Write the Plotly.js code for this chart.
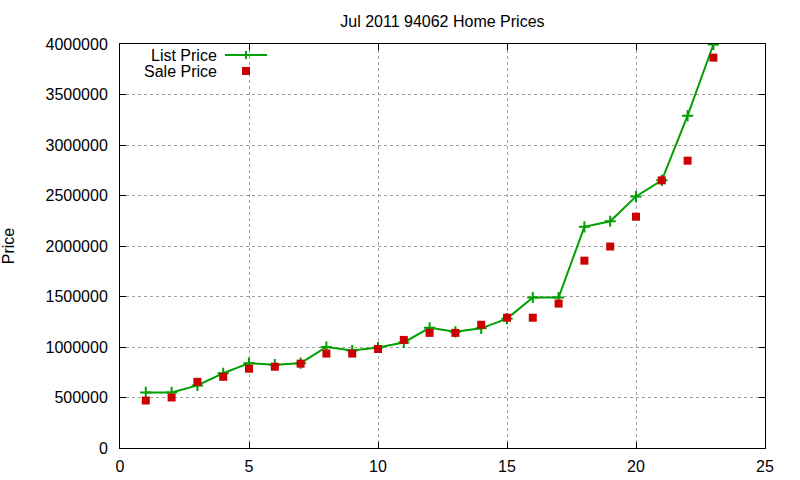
<!DOCTYPE html>
<html>
<head>
<meta charset="utf-8">
<script src="https://cdn.plot.ly/plotly-3.0.1.min.js"></script>
<style>html,body{margin:0;padding:0;background:#fff;}#chart{width:800px;height:480px;}</style>
</head>
<body>
<div id="chart"></div>
<script>
var homeIndex = [1,2,3,4,5,6,7,8,9,10,11,12,13,14,15,16,17,18,19,20,21,22,23];
var listPrice = [550000,550000,620000,740000,840000,825000,840000,1000000,965000,995000,1045000,1190000,1150000,1185000,1280000,1490000,1490000,2190000,2245000,2490000,2650000,3290000,3995000];
var salePrice = [470000,500000,655000,705000,785000,805000,835000,935000,935000,980000,1070000,1140000,1140000,1220000,1290000,1290000,1430000,1855000,1995000,2290000,2650000,2845000,3865000];
var xTicks = [0,5,10,15,20,25];
var yTicks = [0,500000,1000000,1500000,2000000,2500000,3000000,3500000,4000000];
var seriesNames = ['List Price','Sale Price'];

var GREEN = '#00a000', RED = '#cc0000';
var FONT = {family: '"Liberation Sans", Arial, sans-serif', size: 16, color: '#000'};

var traces = [
  {x: homeIndex, y: listPrice, name: seriesNames[0], type: 'scatter', mode: 'lines+markers',
   line: {color: GREEN, width: 2},
   marker: {symbol: 'cross-thin', size: 8, color: GREEN, line: {color: GREEN, width: 2}},
   showlegend: false},
  {x: homeIndex, y: salePrice, name: seriesNames[1], type: 'scatter', mode: 'markers',
   marker: {symbol: 'square', size: 8, color: RED, line: {width: 0}},
   showlegend: false}
];

var L = 120, R = 765, T = 44, B = 448;
function px(x){ return (x - L) / (R - L); }
function py(y){ return (B - y) / (B - T); }

var layout = {
  width: 800, height: 480,
  margin: {l: 120, r: 35, t: 44, b: 32},
  paper_bgcolor: '#fff', plot_bgcolor: '#fff',
  font: FONT,
  title: {text: 'Jul 2011 94062 Home Prices', font: FONT, x: 0.553, xanchor: 'center', y: 0.955, yanchor: 'middle'},
  xaxis: {range: [0, 25], tickvals: xTicks, ticktext: xTicks.map(String),
    ticks: 'inside', ticklen: 6, tickcolor: '#000', tickwidth: 1,
    showline: true, linecolor: '#000', linewidth: 1, mirror: 'ticks',
    showgrid: true, gridcolor: '#a0a0a0', griddash: 'dot', gridwidth: 1,
    zeroline: false, tickfont: FONT, ticklabelstandoff: 4, fixedrange: true},
  yaxis: {range: [0, 4000000], tickvals: yTicks, ticktext: yTicks.map(String),
    ticks: 'inside', ticklen: 6, tickcolor: '#000', tickwidth: 1,
    showline: true, linecolor: '#000', linewidth: 1, mirror: 'ticks',
    showgrid: true, gridcolor: '#a0a0a0', griddash: 'dot', gridwidth: 1,
    zeroline: false, tickfont: FONT, ticklabelstandoff: 8,
    title: {text: 'Price', font: FONT, standoff: 32}, fixedrange: true},
  annotations: [
    {xref: 'paper', yref: 'paper', x: px(218), y: py(55.5), text: seriesNames[0], showarrow: false, xanchor: 'right', yanchor: 'middle', height: 15, borderpad: 0, font: FONT},
    {xref: 'paper', yref: 'paper', x: px(218), y: py(71.5), text: seriesNames[1], showarrow: false, xanchor: 'right', yanchor: 'middle', height: 15, borderpad: 0, font: FONT}
  ],
  shapes: [
    {type: 'line', xref: 'paper', yref: 'paper', x0: px(225), x1: px(267), y0: py(55), y1: py(55), line: {color: GREEN, width: 2}},
    {type: 'line', xref: 'paper', yref: 'paper', x0: px(246), x1: px(246), y0: py(51), y1: py(59), line: {color: GREEN, width: 2}},
    {type: 'rect', xref: 'paper', yref: 'paper', x0: px(242), x1: px(250), y0: py(67), y1: py(75), fillcolor: RED, line: {width: 0}}
  ]
};

Plotly.newPlot('chart', traces, layout, {staticPlot: true, displayModeBar: false});
</script>
</body>
</html>
